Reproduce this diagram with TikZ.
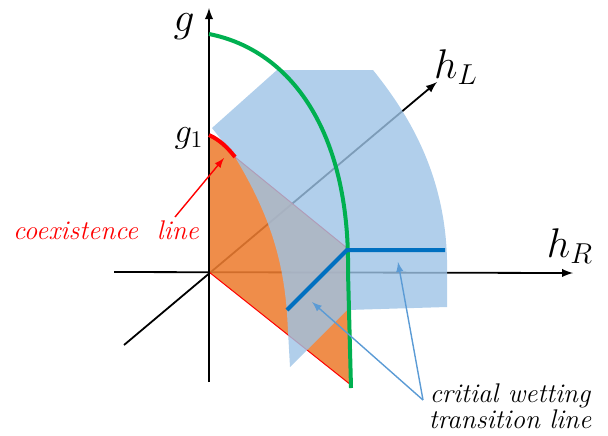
\documentclass[tikz,border=0pt]{standalone}
\usepackage{amsmath}
\definecolor{cgreen}{HTML}{00B050}
\definecolor{cdeep}{HTML}{0070C0}
\definecolor{csurf}{HTML}{9DC3E6}
\definecolor{cnote}{HTML}{5B9BD5}
\definecolor{corange}{HTML}{ED7D31}

\begin{document}
\begin{tikzpicture}[x=0.5pt,y=-0.5pt,
  axis/.style={line width=0.9pt,black,-latex},
  note/.style={cnote,line width=0.7pt,-latex},
  lbl/.style={font=\fontsize{20}{24}\selectfont,inner sep=0pt},
  txt/.style={font=\fontsize{13.5}{13}\selectfont\itshape,inner sep=0pt}]
  \useasboundingbox (0,0) rectangle (608,435);
  \coordinate (O) at (209,272);
  \coordinate (gtop) at (209,8);
  \coordinate (gbot) at (209,382);
  \coordinate (hRtop) at (573,273);
  \coordinate (hRbot) at (114,272);
  \coordinate (hLtop) at (437,82);
  \coordinate (hLbot) at (124,345);
  \coordinate (g1) at (209,135);
  \coordinate (coexend) at (235,157);
  \coordinate (kink) at (347,250);
  \coordinate (wetlow) at (287,310);
  \coordinate (wetright) at (445,250);
  \coordinate (corner) at (351,385);
  \coordinate (coexfoot) at (175,217);
  \coordinate (coextip) at (224,158);
  \coordinate (critfoot) at (423,400);
  \coordinate (tipA) at (312,302);
  \coordinate (tipB) at (398,262);

  \draw[axis] (hRbot) -- (hRtop);
  \draw[axis] (hLbot) -- (hLtop);
  \fill[corange,fill opacity=0.88] (g1) .. controls (220,140) and (228,148) .. (coexend) -- (347,248) -- (corner) -- (O) -- cycle;
  \draw[red,line width=0.5pt] (coexend) -- (347,248) (O) -- (corner);
  \draw[axis] (gbot) -- (gtop);
  \fill[csurf,fill opacity=0.8] (212,128) -- (277,70) -- (373,70) .. controls (405,110) and (445,170) .. (447,260) -- (447,307) -- (347,310) -- (290,367) -- (287,313) .. controls (283,260) and (270,215) .. (coexend) -- cycle;
  \draw[red,line width=2pt] (g1) .. controls (220,140) and (228,148) .. (coexend);
  \draw[cgreen,line width=2pt] (209,34) .. controls (290,50) and (350,130) .. (348,272) -- (351,388);
  \draw[cdeep,line width=2pt] (wetlow) -- (kink) -- (wetright);

  \node[lbl] (glab) at (184,27) {$g$};
  \node[font=\fontsize{18}{21}\selectfont,inner sep=0pt] (g1lab) at (189,138) {$g_1$};
  \node[lbl] (hLlab) at (456,67) {$h_L$};
  \node[lbl] (hRlab) at (570,246) {$h_R$};
  \node[txt,red] (coex) at (106,230) {coexistence\ \ line};
  \node[txt,align=center] (crit) at (510,406) {critial wetting\\transition line};

  \draw[red,line width=0.7pt,-latex] (coexfoot) -- (coextip);
  \draw[note] (critfoot) -- (tipA);
  \draw[note] (critfoot) -- (tipB);
\end{tikzpicture}
\end{document}
